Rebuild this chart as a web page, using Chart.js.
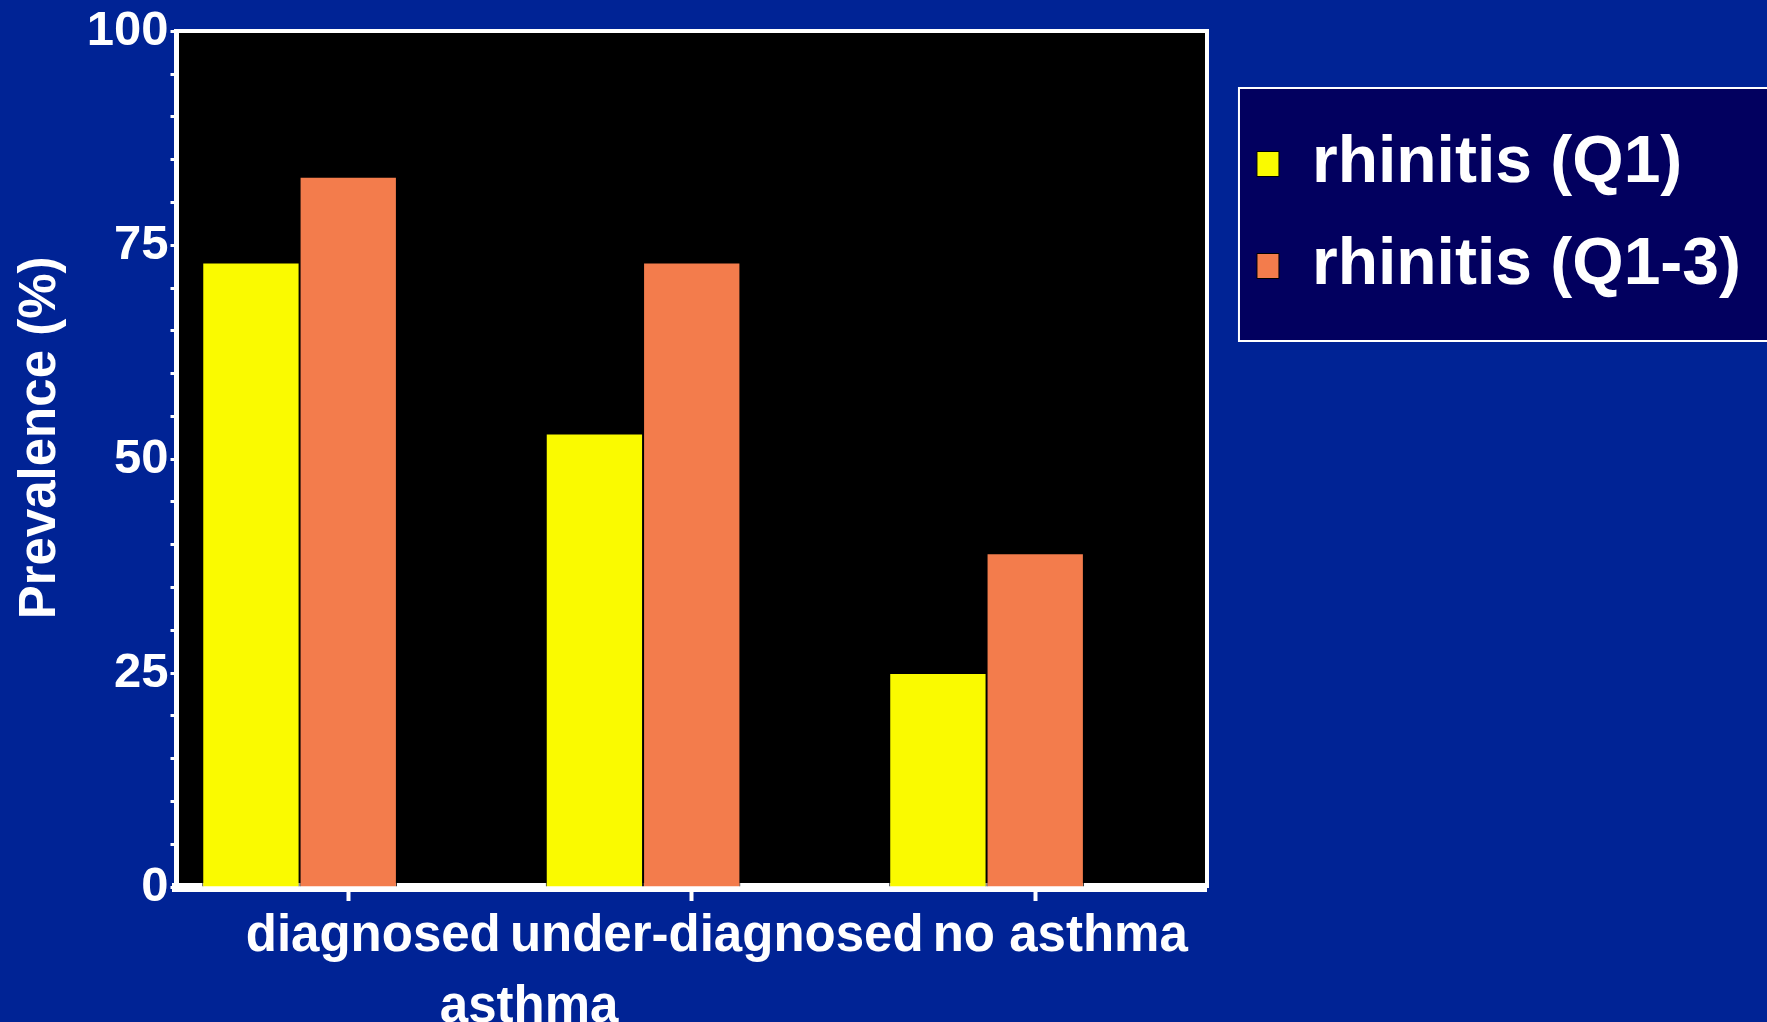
<!DOCTYPE html>
<html>
<head>
<meta charset="utf-8">
<script src="https://cdn.jsdelivr.net/npm/chart.js@4.4.1/dist/chart.umd.min.js"></script>
<style>
    html, body { margin: 0; padding: 0; background: #002395; }
    #wrap { width: 1767px; height: 1022px; position: relative; }
</style>
</head>
<body>
<div id="wrap"><canvas id="rhinitisChart"></canvas></div>
<script>
// Rhinitis prevalence by asthma status
const categories = [['diagnosed', 'asthma'], 'under-diagnosed', 'no asthma'];
const rhinitisQ1 = [73, 53, 25];
const rhinitisQ13 = [83, 73, 39];
const seriesNames = ['rhinitis (Q1)', 'rhinitis (Q1-3)'];
const yTickLabels = [0, 25, 50, 75, 100];

const FONT = "'Liberation Sans', Arial, sans-serif";
Chart.defaults.font.family = FONT;
Chart.defaults.font.weight = 'bold';
Chart.defaults.color = '#ffffff';

// black plot background
const plotBackground = {
    id: 'plotBackground',
    beforeDraw(chart) {
        const { ctx, chartArea } = chart;
        ctx.save();
        ctx.fillStyle = '#000000';
        ctx.fillRect(chartArea.left, chartArea.top, chartArea.right - chartArea.left, chartArea.bottom - chartArea.top);
        ctx.restore();
    }
};

// dark navy panel behind the legend
const legendPanel = {
    id: 'legendPanel',
    beforeDraw(chart) {
        const boxes = chart.legend && chart.legend.legendHitBoxes;
        if (!boxes || !boxes.length) return;
        const ctx = chart.ctx;
        const first = boxes[0];
        const last = boxes[boxes.length - 1];
        const x = first.left - 18;
        const y = first.top - 43;
        const h = last.top + last.height + 42 - y;
        ctx.save();
        ctx.fillStyle = '#02005f';
        ctx.fillRect(x, y, chart.width - x + 10, h);
        ctx.strokeStyle = '#ffffff';
        ctx.lineWidth = 2;
        ctx.strokeRect(x, y, chart.width - x + 10, h);
        ctx.restore();
    }
};

const ctx = document.getElementById('rhinitisChart');
new Chart(ctx, {
    type: 'bar',
    data: {
        labels: categories,
        datasets: [
            {
                label: seriesNames[0],
                data: rhinitisQ1,
                backgroundColor: '#fafa00',
                borderColor: '#000000',
                borderWidth: 1
            },
            {
                label: seriesNames[1],
                data: rhinitisQ13,
                backgroundColor: '#f37c4c',
                borderColor: '#000000',
                borderWidth: 1
            },
            {
                // empty third slot, keeps the pairs left of the tick marks
                label: '',
                data: categories.map(() => null),
                backgroundColor: 'rgba(0,0,0,0)'
            }
        ]
    },
    options: {
        responsive: true,
        maintainAspectRatio: false,
        animation: false,
        layout: { padding: { left: 0, right: 16, top: 0, bottom: 0 } },
        datasets: {
            bar: { categoryPercentage: 0.85, barPercentage: 1.0 }
        },
        plugins: {
            tooltip: { enabled: false },
            legend: {
                position: 'right',
                align: 'start',
                maxWidth: 800,
                title: { display: true, text: '', font: { size: 10 }, padding: { top: 0, bottom: 83 } },
                labels: {
                    color: '#ffffff',
                    font: { size: 66, weight: 'bold' },
                    boxWidth: 22,
                    boxHeight: 25,
                    padding: 36,
                    filter: item => item.text !== ''
                }
            }
        },
        scales: {
            x: {
                z: 1,
                grid: {
                    offset: false,
                    drawOnChartArea: false,
                    tickLength: 14,
                    tickWidth: 4,
                    tickColor: '#ffffff'
                },
                border: { color: '#ffffff', width: 9 },
                ticks: {
                    color: '#ffffff',
                    font: { size: 51, weight: 'bold', lineHeight: 1.4 },
                    labelOffset: 25,
                    padding: 0,
                    maxRotation: 0,
                    minRotation: 0,
                    autoSkip: false,
                    callback: function(value, i) {
                        const lab = categories[i];
                        if (Array.isArray(lab)) {
                            return [lab[0], ' '.repeat(22) + lab[1]];
                        }
                        return lab;
                    }
                },
                afterFit: scale => { scale.height = 135; }
            },
            xTop: {
                position: 'top',
                type: 'linear',
                z: 1,
                grid: { drawOnChartArea: false, drawTicks: false },
                border: { color: '#ffffff', width: 4 },
                ticks: { display: false },
                afterFit: scale => { scale.height = 27; }
            },
            y: {
                z: 1,
                min: 0,
                max: 100,
                grid: {
                    drawOnChartArea: false,
                    tickLength: 6,
                    tickWidth: 3,
                    tickColor: '#ffffff'
                },
                border: { color: '#ffffff', width: 5 },
                ticks: {
                    stepSize: 5,
                    autoSkip: false,
                    padding: 2,
                    color: '#ffffff',
                    font: { size: 49, weight: 'bold' },
                    callback: v => yTickLabels.includes(v) ? String(v) : ''
                },
                title: {
                    display: true,
                    // leading spaces nudge the title up a little, as in the original
                    text: '   Prevalence (%)',
                    color: '#ffffff',
                    font: { size: 51, weight: 'bold' },
                    padding: { top: 10, bottom: 16 }
                },
                afterFit: scale => { scale.width = 176.5; }
            },
            yRight: {
                position: 'right',
                type: 'linear',
                z: 1,
                grid: { drawOnChartArea: false, drawTicks: false },
                border: { color: '#ffffff', width: 4 },
                ticks: { display: false },
                afterFit: scale => { scale.width = 14; }
            }
        }
    },
    plugins: [plotBackground, legendPanel]
});
</script>
</body>
</html>
